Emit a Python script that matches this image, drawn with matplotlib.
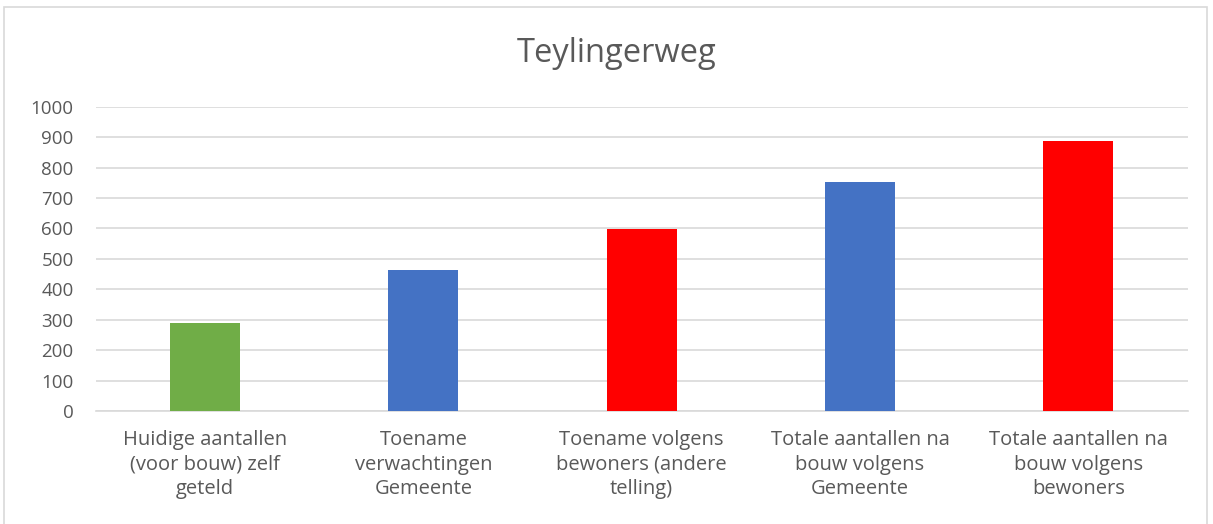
import numpy as np
import matplotlib.pyplot as plt
from matplotlib.patches import Rectangle

plt.rcParams['font.family'] = ['Open Sans', 'DejaVu Sans']

categories = ['Huidige aantallen\n(voor bouw) zelf\ngeteld',
              'Toename\nverwachtingen\nGemeente',
              'Toename volgens\nbewoners (andere\ntelling)',
              'Totale aantallen na\nbouw volgens\nGemeente',
              'Totale aantallen na\nbouw volgens\nbewoners']
values = [290, 465, 598, 752, 887]
colors = ['#70AD47', '#4472C4', '#FF0000', '#4472C4', '#FF0000']

fig = plt.figure(figsize=(12.13, 5.24), dpi=100)
ax = fig.add_axes([0.079, 0.2156, 0.9, 0.5808])

x = np.arange(len(categories))
ax.bar(x, values, 0.32, color=colors, zorder=3)

ax.set_xlim(-0.5, len(categories) - 0.5)
ax.set_ylim(0, 1000)
ax.set_yticks(np.arange(0, 1001, 100))
ax.set_xticks(x)
ax.set_xticklabels(categories, fontsize=14.5, color='#595959', linespacing=1.3)
ax.tick_params(axis='y', labelsize=13.5, colors='#595959', length=0, pad=16)
ax.tick_params(axis='x', length=0, pad=14)
ax.grid(axis='y', color='#d9d9d9', linewidth=1.2, zorder=0)
for s in ['top', 'right', 'left']:
    ax.spines[s].set_visible(False)
ax.spines['bottom'].set_color('#d9d9d9')
ax.spines['bottom'].set_linewidth(1.2)

fig.text(0.508, 0.898, 'Teylingerweg', ha='center', va='center', fontsize=23.5, color='#595959')

fig.patches.append(Rectangle((0.003, -0.05), 0.992, 1.036, transform=fig.transFigure,
                             fill=False, edgecolor='#d9d9d9', linewidth=1.2))

plt.savefig('out.png', dpi=100)
